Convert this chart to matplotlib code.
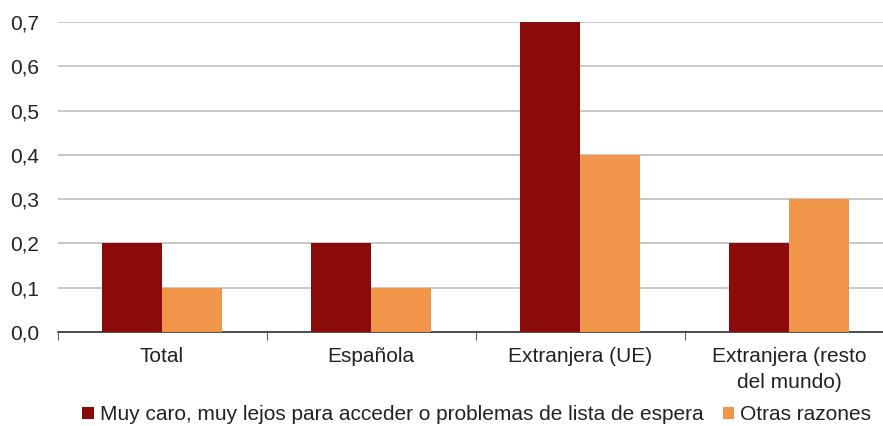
import numpy as np
import matplotlib.pyplot as plt
from matplotlib.ticker import FuncFormatter

categories = ['Total', 'Española', 'Extranjera (UE)', 'Extranjera (resto\ndel mundo)']
caro = [0.2, 0.2, 0.7, 0.2]
otras = [0.1, 0.1, 0.4, 0.3]
labels = ['Muy caro, muy lejos para acceder o problemas de lista de espera', 'Otras razones']

plt.rcParams['font.family'] = ['Liberation Sans', 'DejaVu Sans']
fs = 15

fig = plt.figure(figsize=(8.83, 4.26), dpi=100)
# axes runs a bit past the right edge, as in the original
ax = fig.add_axes([57.5 / 883, 94 / 426, 836 / 883, 310 / 426])

x = np.arange(len(categories))
w = 0.285
ax.bar(x - w / 2, caro, w, color='#8B0A0A', label=labels[0], zorder=3)
ax.bar(x + w / 2, otras, w, color='#F0954A', label=labels[1], zorder=3)

ax.set_xlim(-0.5, len(categories) - 0.5)
ax.set_ylim(0, 0.7)
ax.set_yticks(np.arange(0, 0.71, 0.1))
ax.yaxis.set_major_formatter(FuncFormatter(lambda v, p: f'{v:.1f}'.replace('.', ',')))
ax.yaxis.grid(True, color='#BFBFBF', linewidth=1.2, zorder=0)
ax.tick_params(axis='y', length=0, labelsize=fs, pad=13, colors='#222222')

ax.set_xticks(x)
ax.set_xticklabels(categories, fontsize=fs, color='#222222', linespacing=1.45)
ax.tick_params(axis='x', length=0, pad=11)
ax.set_xticks(np.arange(-0.5, len(categories)), minor=True)
ax.tick_params(axis='x', which='minor', length=6, direction='out', color='#333333')

for s in ['top', 'right', 'left']:
    ax.spines[s].set_visible(False)
ax.spines['bottom'].set_color('#333333')
ax.spines['bottom'].set_linewidth(1.2)

fig.legend(loc='lower center', bbox_to_anchor=(0.54, -0.04), ncol=2, frameon=False,
           fontsize=fs, handlelength=0.55, handleheight=0.55, handletextpad=0.3,
           columnspacing=0.9, labelcolor='#222222')

fig.savefig('out.png', dpi=100)
